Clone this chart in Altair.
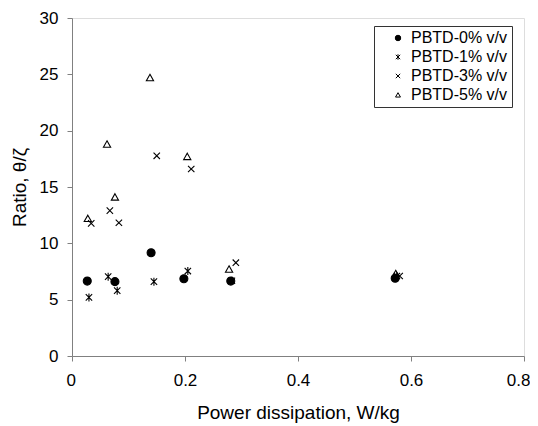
import altair as alt
import pandas as pd

series_names = ["PBTD-0% v/v", "PBTD-1% v/v", "PBTD-3% v/v", "PBTD-5% v/v"]

x0 = [0.027, 0.076, 0.140, 0.198, 0.281, 0.572]
y0 = [6.65, 6.6, 9.17, 6.86, 6.65, 6.9]

x1 = [0.030, 0.064, 0.080, 0.145, 0.205, 0.283, 0.575]
y1 = [5.2, 7.04, 5.8, 6.6, 7.54, 6.68, 7.1]

x3 = [0.034, 0.067, 0.083, 0.150, 0.211, 0.290, 0.580]
y3 = [11.77, 12.9, 11.83, 17.77, 16.6, 8.28, 7.1]

x5 = [0.028, 0.062, 0.076, 0.138, 0.204, 0.278, 0.573]
y5 = [12.2, 18.8, 14.1, 24.7, 17.7, 7.7, 7.3]

rows = []
for name, xs, ys in zip(series_names, [x0, x1, x3, x5], [y0, y1, y3, y5]):
    for a, b in zip(xs, ys):
        rows.append({"series": name, "x": a, "y": b})
df = pd.DataFrame(rows)

cross = "M-0.8,-0.8L0.8,0.8M-0.8,0.8L0.8,-0.8"
aster = "M-0.8,-0.8L0.8,0.8M-0.8,0.8L0.8,-0.8M0,-1L0,1"
tri = "M0,-0.85L0.9,0.75L-0.9,0.75Z"

FONT = "Liberation Sans"


def leg():
    return alt.Legend(title=None, orient="none", legendX=302, legendY=8,
                      labelFontSize=16, labelFont=FONT, labelColor="black",
                      symbolSize=30, symbolStrokeWidth=1,
                      strokeColor="#333333", padding=4, rowPadding=3,
                      symbolOffset=12, labelOffset=5, fillColor="white")


chart = alt.Chart(df).mark_point(filled=False, strokeWidth=1.1, size=64, opacity=1).encode(
    x=alt.X("x:Q", scale=alt.Scale(domain=[0, 0.8], nice=False),
            axis=alt.Axis(values=[0, 0.2, 0.4, 0.6, 0.8], format="~g", title="Power dissipation, W/kg",
                          grid=False, domainColor="#808080", tickColor="#808080", tickSize=5,
                          labelFontSize=17, titleFontSize=19, labelPadding=11, titlePadding=15,
                          labelFlush=True, labelFlushOffset=6,
                          labelColor="black", titleColor="black", titleFontWeight="normal",
                          labelFont=FONT, titleFont=FONT)),
    y=alt.Y("y:Q", scale=alt.Scale(domain=[0, 30], nice=False),
            axis=alt.Axis(values=[0, 5, 10, 15, 20, 25, 30], title="Ratio, θ/ζ",
                          grid=False, domainColor="#808080", tickColor="#808080", tickSize=5,
                          labelFontSize=17, titleFontSize=19, labelPadding=9, titlePadding=10,
                          labelFlush=False,
                          labelColor="black", titleColor="black", titleFontWeight="normal",
                          labelFont=FONT, titleFont=FONT)),
    shape=alt.Shape("series:N", scale=alt.Scale(domain=series_names, range=["circle", aster, cross, tri]),
                    legend=leg()),
    fill=alt.Fill("series:N", scale=alt.Scale(domain=series_names,
                                              range=["black", "transparent", "transparent", "transparent"]),
                  legend=leg()),
    stroke=alt.Stroke("series:N", scale=alt.Scale(domain=series_names,
                                                  range=["black", "black", "black", "black"]),
                      legend=leg()),
).properties(
    width=452, height=338,
    autosize=alt.AutoSizeParams(type="none"),
    padding={"left": 64, "top": 10, "right": 6, "bottom": 70},
).configure_view(stroke="#808080", strokeWidth=1).configure(background="white")

chart.save("out.html", embed_options={"renderer": "svg", "actions": False})
